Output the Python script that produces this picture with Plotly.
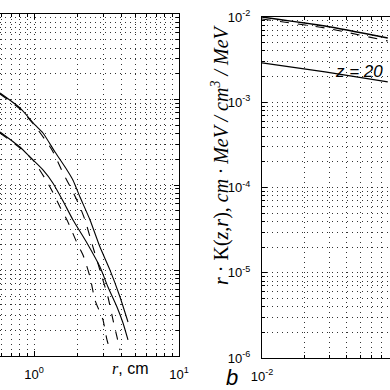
import plotly.graph_objects as go

# ---------------- data ----------------
# panel a (left): r in cm, K values (log axis)
a_upper_solid_r = [0.583, 0.80, 1.016, 1.153, 1.396, 1.688, 1.858, 2.075, 2.434, 2.852, 3.344, 3.918, 4.449]
a_upper_solid_k = [1.19e-3, 7.96e-4, 5.04e-4, 4.06e-4, 2.43e-4, 1.50e-4, 1.14e-4, 7.24e-5, 3.90e-5, 1.88e-5, 1.01e-5, 4.90e-6, 2.50e-6]

a_upper_dash_r = [0.583, 0.80, 1.016, 1.331, 1.585, 1.828, 2.075, 2.247, 2.552, 2.944, 3.237, 3.506, 3.735, 3.918]
a_upper_dash_k = [1.16e-3, 7.75e-4, 4.90e-4, 2.57e-4, 1.38e-4, 8.74e-5, 5.54e-5, 3.90e-5, 1.88e-5, 8.40e-6, 4.90e-6, 2.64e-6, 1.67e-6, 1.17e-6]

a_lower_solid_r = [0.583, 0.80, 0.938, 1.153, 1.352, 1.585, 1.858, 2.319, 2.852, 3.237, 3.735, 4.110, 4.449]
a_lower_solid_k = [4.17e-4, 2.78e-4, 2.12e-4, 1.50e-4, 1.05e-4, 6.50e-5, 3.90e-5, 2.10e-5, 1.10e-5, 6.41e-6, 3.74e-6, 2.43e-6, 1.54e-6]

a_lower_dash_r = [0.583, 0.80, 0.984, 1.289, 1.511, 1.689, 1.980, 2.177, 2.434, 2.632, 2.991, 3.187, 3.342]
a_lower_dash_k = [4.06e-4, 2.71e-4, 1.96e-4, 9.48e-5, 5.54e-5, 3.90e-5, 2.10e-5, 1.52e-5, 8.40e-6, 4.52e-6, 2.64e-6, 1.54e-6, 1.17e-6]

# panel b (right): z in cm, r*K values
b_z = [0.01, 0.028, 0.078]
b_upper_solid = [1.0e-2, 7.84e-3, 5.67e-3]
b_upper_dash = [9.47e-3, 7.43e-3, 5.23e-3]
b_lower_solid = [2.89e-3, 2.27e-3, 1.73e-3]

a_xtick_vals = [1, 10]
a_xtick_text = ["10<sup>0</sup>", "10<sup>1</sup>"]
b_xtick_vals = [0.01]
b_xtick_text = ["10<sup>-2</sup>"]
b_ytick_vals = [1e-6, 1e-5, 1e-4, 1e-3, 1e-2]
b_ytick_text = ["10<sup>-6</sup>", "10<sup>-5</sup>", "10<sup>-4</sup>", "10<sup>-3</sup>", "10<sup>-2</sup>"]

# ---------------- figure ----------------
W = H = 390
fig = go.Figure()

def line(x, y, dash, xa, ya, width=1.1):
    fig.add_trace(go.Scatter(x=x, y=y, mode="lines", xaxis=xa, yaxis=ya,
                             line=dict(color="black", width=width, dash=dash, shape="spline", smoothing=0.6),
                             showlegend=False, hoverinfo="skip"))

line(a_upper_solid_r, a_upper_solid_k, "solid", "x", "y")
line(a_upper_dash_r, a_upper_dash_k, "dash", "x", "y")
line(a_lower_solid_r, a_lower_solid_k, "solid", "x", "y")
line(a_lower_dash_r, a_lower_dash_k, "dash", "x", "y")

line(b_z, b_upper_solid, "solid", "x2", "y2", 1.3)
line(b_z, b_upper_dash, "dash", "x2", "y2", 1.1)
line(b_z, b_lower_solid, "solid", "x2", "y2", 1.3)

def decade_minors(lo, hi):
    vals = []
    e = lo
    while e < hi:
        for m in range(2, 10):
            vals.append(m * 10 ** e)
        e += 1
    return vals

GRIDDASH = "1px,4px"
GRIDCOLOR = "#333333"
grid = dict(showgrid=True, gridcolor=GRIDCOLOR, gridwidth=1, griddash=GRIDDASH)
tickfont = dict(family="Liberation Sans, Arial", size=13, color="black")

def minor(vals):
    return dict(tickmode="array", tickvals=vals, ticks="inside", ticklen=3,
                tickcolor="black", showgrid=True, gridcolor=GRIDCOLOR, gridwidth=1,
                griddash=GRIDDASH)

fig.update_layout(
    width=W, height=H, margin=dict(l=0, r=0, t=0, b=0, autoexpand=False),
    paper_bgcolor="white", plot_bgcolor="white",
    xaxis=dict(domain=[0, 179 / W], type="log", range=[-0.2345, 1.0], anchor="y",
               automargin=False,
               tickmode="array", tickvals=a_xtick_vals, ticktext=a_xtick_text,
               ticks="inside", ticklen=5, tickcolor="black", tickfont=tickfont,
               ticklabelstandoff=6,
               showline=True, linecolor="black", linewidth=1, mirror="allticks",
               minor=minor(decade_minors(-1, 1)), zeroline=False, **grid),
    yaxis=dict(domain=[1 - 356 / H, 1 - 14 / H], type="log", range=[-6, -2], anchor="x",
               automargin=False,
               side="right", tickmode="array", tickvals=b_ytick_vals,
               ticks="inside", ticklen=5, tickcolor="black", showticklabels=False,
               showline=True, linecolor="black", linewidth=1, mirror=False,
               minor=minor(decade_minors(-6, -2)), zeroline=False, **grid),
    xaxis2=dict(domain=[262 / W, 1], type="log", range=[-2, -1.092], anchor="y2",
                automargin=False,
                tickmode="array", tickvals=b_xtick_vals, ticktext=b_xtick_text,
                ticks="inside", ticklen=5, tickcolor="black", tickfont=tickfont,
                ticklabelstandoff=6,
                showline=True, linecolor="black", linewidth=1, mirror="allticks",
                minor=minor(decade_minors(-2, 0)), zeroline=False, **grid),
    yaxis2=dict(domain=[1 - 358 / H, 1 - 17 / H], type="log", range=[-6, -2], anchor="x2",
                automargin=False,
                side="left", tickmode="array", tickvals=b_ytick_vals, ticktext=b_ytick_text,
                ticks="inside", ticklen=5, tickcolor="black", tickfont=tickfont,
                ticklabelstandoff=8,
                showline=True, linecolor="black", linewidth=1, mirror=False,
                minor=minor(decade_minors(-6, -2)), zeroline=False, **grid),
)

serif = "Liberation Serif, Times New Roman, serif"
sans = "Liberation Sans, Arial, sans-serif"

fig.add_annotation(
    x=110 / W, y=1 - 379 / H, xref="paper", yref="paper", showarrow=False,
    text='<span style="font-family:Liberation Serif;font-style:italic">r</span>, cm',
    font=dict(family=sans, size=16, color="black"))

fig.add_annotation(
    x=221 / W, y=1 - 155 / H, xref="paper", yref="paper", showarrow=False, textangle=-90,
    text="<i>r</i> · K(<i>z</i>,<i>r</i>), <i>cm · MeV / cm<sup>3</sup> / MeV</i>",
    font=dict(family=serif, size=20, color="black"))

fig.add_annotation(
    x=232 / W, y=1 - 363 / H, xref="paper", yref="paper", showarrow=False, yanchor="top",
    text="<i>b</i>", font=dict(family=sans, size=22, color="black"))

fig.add_annotation(
    x=333 / W, y=1 - 60 / H, xref="paper", yref="paper", showarrow=False, xanchor="left",
    text="<i>z = 20</i>", font=dict(family=sans, size=17, color="black"))

fig.write_html("out.html",
               config={"displayModeBar": False, "staticPlot": True},
               post_script="document.body.style.margin='0';document.body.style.overflow='hidden';")
